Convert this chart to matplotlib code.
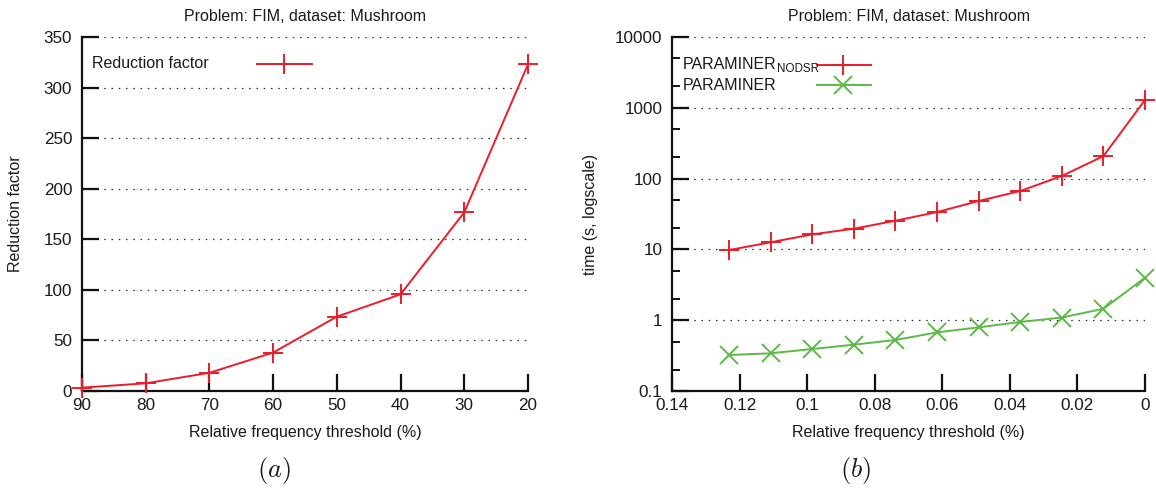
import matplotlib
matplotlib.use("Agg")
import matplotlib.pyplot as plt
from matplotlib.lines import Line2D
from matplotlib.ticker import FixedLocator, FuncFormatter, NullFormatter

plt.rcParams['font.family'] = ['Liberation Sans', 'DejaVu Sans']
plt.rcParams['mathtext.fontset'] = 'cm'

# ---------------- data ----------------
thresholds_a = [90, 80, 70, 60, 50, 40, 30, 20]
reduction_factor = [3.3, 7.6, 18, 38, 73.5, 95.6, 176.7, 323]

thresholds_b = [0.1231, 0.1108, 0.0985, 0.0862, 0.0739, 0.0615, 0.0492, 0.0369, 0.0246, 0.0123, 0.0]
time_nodsr = [9.8, 12.6, 16.3, 19.6, 25.4, 33.7, 48.3, 66.8, 109, 208, 1290]
time_paraminer = [0.322, 0.341, 0.392, 0.451, 0.525, 0.674, 0.793, 0.944, 1.09, 1.45, 3.98]

xticks_a = [90, 80, 70, 60, 50, 40, 30, 20]
yticks_a = [0, 50, 100, 150, 200, 250, 300, 350]
xticks_b = [0.14, 0.12, 0.1, 0.08, 0.06, 0.04, 0.02, 0]
yticks_b = [0.1, 1, 10, 100, 1000, 10000]

title_text = "Problem: FIM, dataset: Mushroom"
xlabel_text = "Relative frequency threshold (%)"

RED = '#ec1c2a'
GREEN = '#5cb946'
TXT = '#1a1a1a'
FS = 11.5
PLUS_MS = 14.5
X_MS = 13

W, H = 1156, 491
fig = plt.figure(figsize=(W / 100, H / 100), dpi=100)


def px_axes(l, r, t, b):
    return fig.add_axes([l / W, 1 - b / H, (r - l) / W, (b - t) / H])


def style(ax):
    for s in ['top', 'right']:
        ax.spines[s].set_visible(False)
    for s in ['left', 'bottom']:
        ax.spines[s].set_linewidth(1.6)
        ax.spines[s].set_color('#111111')
    ax.tick_params(axis='both', which='major', direction='in', length=12, width=1.6,
                   color='#111111', labelsize=FS + 0.8, labelcolor=TXT)
    ax.tick_params(axis='y', which='major', pad=7)
    ax.tick_params(axis='x', which='major', pad=5)
    ax.tick_params(axis='y', which='minor', direction='in', length=6, width=1.4, color='#111111')
    ax.tick_params(axis='x', which='minor', length=0)
    ax.set_axisbelow(True)
    ax.grid(axis='y', which='major', linestyle=(0, (1.2, 4.6)), color='#2a2a2a', linewidth=0.9)
    ax.grid(axis='x', visible=False)


# ---------------- (a) ----------------
axA = px_axes(82, 528, 37, 391)
style(axA)
axA.set_xlim(90, 20)
axA.set_ylim(0, 350)
axA.set_xticks(xticks_a)
axA.set_yticks(yticks_a)
axA.plot(thresholds_a, reduction_factor, color=RED, lw=1.4, marker='+', ms=PLUS_MS, mew=1.4,
         clip_on=False, zorder=5)

# legend (a)
axA.text(0.0235, 0.924, "Reduction factor", transform=axA.transAxes, fontsize=FS,
         color=TXT, ha='left', va='center')
axA.add_line(Line2D([0.392, 0.516], [0.924, 0.924], transform=axA.transAxes, color=RED, lw=1.4))
axA.add_line(Line2D([0.453], [0.924], transform=axA.transAxes, color=RED, marker='+',
                    ms=PLUS_MS, mew=1.4, lw=0))

fig.text((82 + 528) / 2 / W, 1 - 20.7 / H, title_text, ha='center', va='baseline',
         fontsize=FS, color=TXT)
fig.text((82 + 528) / 2 / W, 1 - 437 / H, xlabel_text, ha='center', va='baseline',
         fontsize=FS, color=TXT)
fig.text(16 / W, 1 - 214 / H, "Reduction factor", rotation=90, ha='center', va='center',
         fontsize=FS, color=TXT)
fig.text(274 / W, 1 - 470 / H, r"$(a)$", ha='center', va='center', fontsize=19, color=TXT)

# ---------------- (b) ----------------
axB = px_axes(672, 1145, 37, 391)
style(axB)
axB.set_yscale('log')
axB.set_xlim(0.14, 0)
axB.set_ylim(0.1, 10000)
axB.xaxis.set_major_locator(FixedLocator(xticks_b))
axB.xaxis.set_major_formatter(FuncFormatter(lambda v, p: "%g" % v))
axB.yaxis.set_major_locator(FixedLocator(yticks_b))
axB.yaxis.set_major_formatter(FuncFormatter(lambda v, p: "%g" % v))
minors = [m * 10 ** e for e in range(-1, 4) for m in (2, 5)]
axB.yaxis.set_minor_locator(FixedLocator(minors))
axB.yaxis.set_minor_formatter(NullFormatter())
axB.tick_params(axis='y', which='minor', direction='in', length=6, width=1.4, color='#111111')

axB.plot(thresholds_b, time_nodsr, color=RED, lw=1.4, marker='+', ms=PLUS_MS, mew=1.4,
         clip_on=False, zorder=5)
axB.plot(thresholds_b, time_paraminer, color=GREEN, lw=1.4, marker='x', ms=X_MS, mew=1.4,
         clip_on=False, zorder=5)

# legend (b)
t1 = axB.text(0.0233, 0.921, "PARAMINER", transform=axB.transAxes, fontsize=FS,
              color=TXT, ha='left', va='center')
axB.annotate("NODSR", xy=(1, 0), xycoords=t1, fontsize=8.4, color=TXT,
             ha='left', va='baseline')
axB.add_line(Line2D([0.3066, 0.4207], [0.921, 0.921], transform=axB.transAxes, color=RED, lw=1.4))
axB.add_line(Line2D([0.3615], [0.921], transform=axB.transAxes, color=RED, marker='+',
                    ms=PLUS_MS, mew=1.4, lw=0))
axB.text(0.0233, 0.864, "PARAMINER", transform=axB.transAxes, fontsize=FS,
         color=TXT, ha='left', va='center')
axB.add_line(Line2D([0.3066, 0.4207], [0.864, 0.864], transform=axB.transAxes, color=GREEN, lw=1.4))
axB.add_line(Line2D([0.3615], [0.864], transform=axB.transAxes, color=GREEN, marker='x',
                    ms=X_MS, mew=1.4, lw=0))

fig.text((672 + 1145) / 2 / W, 1 - 20.7 / H, title_text, ha='center', va='baseline',
         fontsize=FS, color=TXT)
fig.text((672 + 1145) / 2 / W, 1 - 437 / H, xlabel_text, ha='center', va='baseline',
         fontsize=FS, color=TXT)
fig.text(591 / W, 1 - 214 / H, "time (s, logscale)", rotation=90, ha='center', va='center',
         fontsize=FS, color=TXT)
fig.text(856 / W, 1 - 470 / H, r"$(b)$", ha='center', va='center', fontsize=19, color=TXT)

fig.savefig("out.png", dpi=100)
